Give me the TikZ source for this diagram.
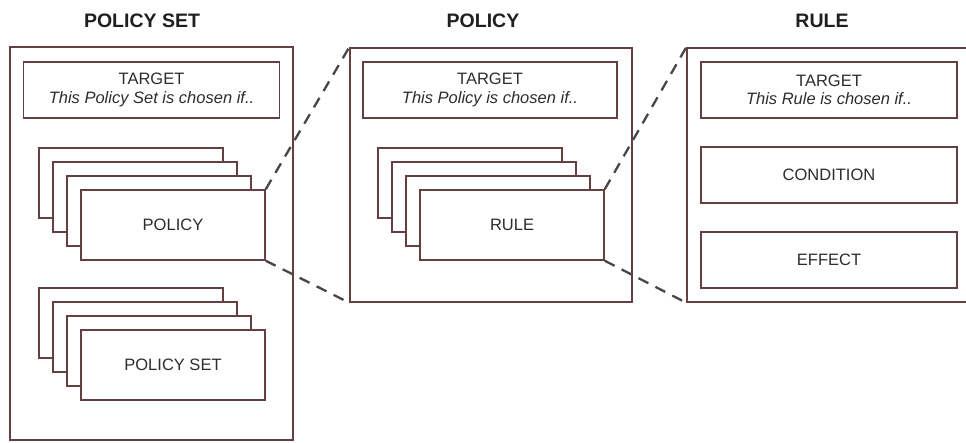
\documentclass[tikz,border=0pt]{standalone}
\usepackage{fontspec}
\setmainfont{Liberation Sans}
\begin{document}
\begin{tikzpicture}[x=1pt,y=-1pt,
  boxline/.style={draw=edgecol, line width=1.5pt, fill=white},
  panel/.style={boxline, inner sep=0pt},
  card/.style={boxline, minimum width=184pt, minimum height=70pt, inner sep=0pt,
    font=\fontsize{16.5}{19.5}\selectfont, text=txtcol},
  slab/.style={boxline, minimum width=256pt, minimum height=56pt, inner sep=0pt,
    font=\fontsize{16.5}{19.5}\selectfont, text=txtcol, align=center},
  heading/.style={font=\bfseries\fontsize{19.5}{22}\selectfont, text=black!88},
  zoomline/.style={draw=black!72, line width=2.3pt, dash pattern=on 11pt off 8pt}]
\definecolor{edgecol}{RGB}{100,64,66}
\definecolor{txtcol}{RGB}{45,45,45}
\useasboundingbox (0,0) rectangle (966,443);
\clip (0,0) rectangle (966,443);

% headings
\node[heading] (hset) at (142,21) {POLICY SET};
\node[heading] (hpol) at (483,21) {POLICY};
\node[heading] (hrule) at (822,21) {RULE};

% ---------- policy set panel ----------
\node[panel, minimum width=283pt, minimum height=393pt] (pset) at (151.5,243.5) {};
\node[slab] (tset) at (151.5,90) {TARGET\\[-1pt]\textit{This Policy Set is chosen if..}};
\foreach \i in {0,1,2} {
  \node[card] (pa\i) at (131+14*\i,183+14*\i) {};
}
\node[card] (pfront) at (173,225) {POLICY};
\foreach \i in {0,1,2} {
  \node[card] (sa\i) at (131+14*\i,323+14*\i) {};
}
\node[card] (sfront) at (173,365) {POLICY SET};

% ---------- policy panel ----------
\node[panel, minimum width=282pt, minimum height=254pt] (pol) at (491,175) {};
\node[slab, minimum width=254pt] (tpol) at (490,90) {TARGET\\[-1pt]\textit{This Policy is chosen if..}};
\foreach \i in {0,1,2} {
  \node[card] (ra\i) at (470+14*\i,183+14*\i) {};
}
\node[card] (rfront) at (512,225) {RULE};

% ---------- rule panel ----------
\node[panel, minimum width=290pt, minimum height=254pt] (rul) at (832,175) {};
\node[slab] (trule) at (829,90) {TARGET\\[-1pt]\textit{This Rule is chosen if..}};
\node[slab] (cond) at (829,175) {CONDITION};
\node[slab] (eff) at (829,260) {EFFECT};

% ---------- zoom connectors ----------
\draw[zoomline] (pfront.north east) -- (pol.north west);
\draw[zoomline] (pfront.south east) -- (pol.south west);
\draw[zoomline] (rfront.north east) -- (rul.north west);
\draw[zoomline] (rfront.south east) -- (rul.south west);
\end{tikzpicture}
\end{document}
